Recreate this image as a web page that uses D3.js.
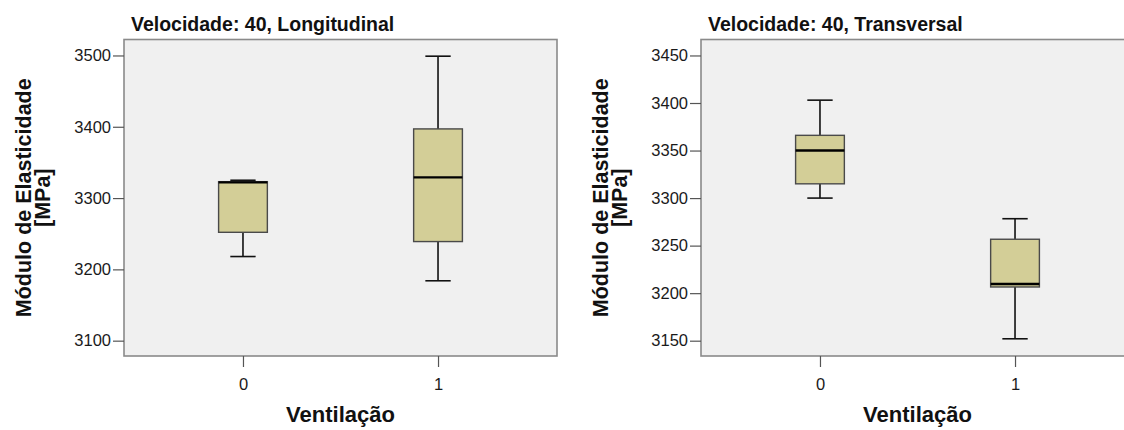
<!DOCTYPE html>
<html>
<head>
<meta charset="utf-8">
<script src="https://cdn.jsdelivr.net/npm/d3@7/dist/d3.min.js"></script>
<style>
  html, body { margin: 0; padding: 0; background: #ffffff; }
  svg { display: block; }
  text { font-family: "Liberation Sans", Arial, sans-serif; }
</style>
</head>
<body>
<svg id="chart" width="1124" height="430"></svg>
<script>
// ---- data ----
const categories = ["0", "1"];
const xAxisTitle = "Ventilação";
const yAxisTitle = ["Módulo de Elasticidade", "[MPa]"];

const longTitle = "Velocidade: 40, Longitudinal";
const longLow = [3218, 3184];
const longQ1 = [3252, 3239];
const longMedian = [3322, 3329];
const longQ3 = [3323, 3397];
const longHigh = [3325, 3499];
const longTicks = [3100, 3200, 3300, 3400, 3500];
const longDomain = [3078.5, 3522.4];

const transTitle = "Velocidade: 40, Transversal";
const transLow = [3300, 3152];
const transQ1 = [3315, 3206.5];
const transMedian = [3350, 3209.6];
const transQ3 = [3366, 3256.7];
const transHigh = [3403, 3278.3];
const transTicks = [3150, 3200, 3250, 3300, 3350, 3400, 3450];
const transDomain = [3133.9, 3466.8];

const svg = d3.select("#chart");

function drawPanel(cfg) {
  const g = svg.append("g");
  const { left, right, top, bottom } = cfg.frame;

  const x = d3.scalePoint().domain(categories).range([left, right]).padding(0.61);
  const y = d3.scaleLinear().domain(cfg.domain).range([bottom, top]);
  const boxW = x.step() * 0.25;
  const capW = boxW * 0.52;

  // plot background + frame
  g.append("rect")
    .attr("x", left).attr("y", top)
    .attr("width", right - left).attr("height", bottom - top)
    .attr("fill", "#f0f0f0")
    .attr("stroke", "#8a8a8a").attr("stroke-width", 1.6);

  // y axis
  const yAxis = d3.axisLeft(y).tickValues(cfg.ticks).tickSize(11).tickPadding(2).tickFormat(d3.format("d"));
  const ya = g.append("g").attr("transform", `translate(${left},0)`).call(yAxis);
  ya.select(".domain").remove();
  ya.selectAll(".tick line").attr("stroke", "#555").attr("stroke-width", 1.2);
  ya.selectAll(".tick text").attr("fill", "#1a1a1a").style("font-size", "16.5px");

  // x axis
  const xAxis = d3.axisBottom(x).tickSize(11).tickPadding(11);
  const xa = g.append("g").attr("transform", `translate(0,${bottom})`).call(xAxis);
  xa.select(".domain").remove();
  xa.selectAll(".tick line").attr("stroke", "#555").attr("stroke-width", 1.2);
  xa.selectAll(".tick text").attr("fill", "#1a1a1a").style("font-size", "16.5px");

  // boxes
  const rows = categories.map((c, i) => ({
    c, low: cfg.low[i], q1: cfg.q1[i], med: cfg.median[i], q3: cfg.q3[i], high: cfg.high[i]
  }));
  const bx = g.append("g").selectAll("g").data(rows).join("g");

  // whiskers
  bx.append("line")
    .attr("x1", d => x(d.c)).attr("x2", d => x(d.c))
    .attr("y1", d => y(d.high)).attr("y2", d => y(d.q3))
    .attr("stroke", "#111").attr("stroke-width", 1.6);
  bx.append("line")
    .attr("x1", d => x(d.c)).attr("x2", d => x(d.c))
    .attr("y1", d => y(d.q1)).attr("y2", d => y(d.low))
    .attr("stroke", "#111").attr("stroke-width", 1.6);
  // caps
  bx.append("line")
    .attr("x1", d => x(d.c) - capW / 2).attr("x2", d => x(d.c) + capW / 2)
    .attr("y1", d => y(d.high)).attr("y2", d => y(d.high))
    .attr("stroke", "#111").attr("stroke-width", 1.6);
  bx.append("line")
    .attr("x1", d => x(d.c) - capW / 2).attr("x2", d => x(d.c) + capW / 2)
    .attr("y1", d => y(d.low)).attr("y2", d => y(d.low))
    .attr("stroke", "#111").attr("stroke-width", 1.6);
  // box
  bx.append("rect")
    .attr("x", d => x(d.c) - boxW / 2).attr("width", boxW)
    .attr("y", d => y(d.q3)).attr("height", d => y(d.q1) - y(d.q3))
    .attr("fill", "#d3ce97").attr("stroke", "#4a4a4a").attr("stroke-width", 1.4);
  // median
  bx.append("line")
    .attr("x1", d => x(d.c) - boxW / 2).attr("x2", d => x(d.c) + boxW / 2)
    .attr("y1", d => y(d.med)).attr("y2", d => y(d.med))
    .attr("stroke", "#000").attr("stroke-width", 2.4);

  // title
  g.append("text")
    .attr("x", left + 7).attr("y", top - 9)
    .attr("fill", "#111").style("font-size", "19.5px").style("font-weight", "bold")
    .text(cfg.title);

  // y axis title (two lines)
  const cy = (top + bottom) / 2;
  const yt = g.append("text")
    .attr("transform", `translate(${cfg.yTitleX},${cy}) rotate(-90)`)
    .attr("text-anchor", "middle")
    .attr("fill", "#111").style("font-size", "21.5px").style("font-weight", "bold");
  yt.append("tspan").attr("x", 0).attr("dy", 0).text(yAxisTitle[0]);
  yt.append("tspan").attr("x", 0).attr("dy", "0.86em").text(yAxisTitle[1]);

  // x axis title
  g.append("text")
    .attr("x", (x(categories[0]) + x(categories[1])) / 2).attr("y", 422)
    .attr("text-anchor", "middle")
    .attr("fill", "#111").style("font-size", "22px").style("font-weight", "bold")
    .text(xAxisTitle);
}

drawPanel({
  title: longTitle, frame: { left: 124, right: 557, top: 39.5, bottom: 356 },
  domain: longDomain, ticks: longTicks,
  low: longLow, q1: longQ1, median: longMedian, q3: longQ3, high: longHigh,
  yTitleX: 31
});
drawPanel({
  title: transTitle, frame: { left: 701, right: 1134, top: 39.5, bottom: 356 },
  domain: transDomain, ticks: transTicks,
  low: transLow, q1: transQ1, median: transMedian, q3: transQ3, high: transHigh,
  yTitleX: 608
});
</script>
</body>
</html>
